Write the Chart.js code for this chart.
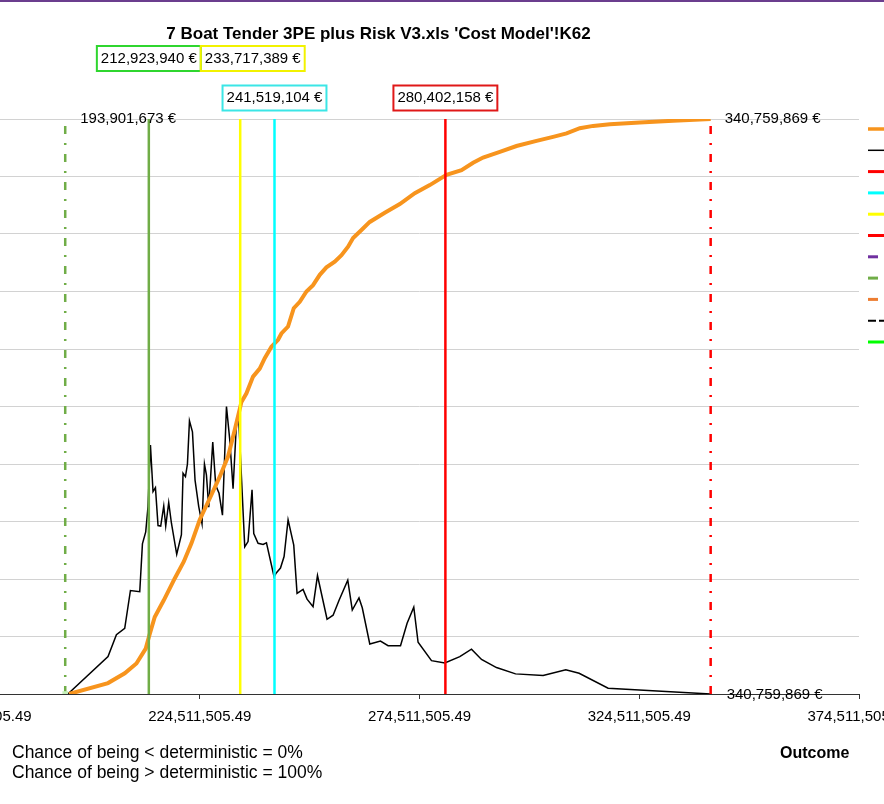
<!DOCTYPE html>
<html>
<head>
<meta charset="utf-8">
<script src="https://cdn.jsdelivr.net/npm/chart.js@4.4.0/dist/chart.umd.min.js"></script>
<style>
  html, body { margin: 0; padding: 0; }
  body { width: 884px; height: 804px; overflow: hidden; position: relative; background: #fff;
         font-family: "Liberation Sans", Arial, sans-serif; color: #000; }
  #topline { position: absolute; left: 0; top: 0; width: 884px; height: 2px; background: #6b3e8e; }
  #wrap { position: absolute; left: -100px; top: 0; width: 1100px; height: 804px; }
  #title { position: absolute; left: 0; top: 24px; width: 757px; text-align: center;
           font-weight: bold; font-size: 17px; white-space: nowrap; }
  #chances { position: absolute; left: 12px; top: 742px; font-size: 17.5px; line-height: 20px; white-space: nowrap; }
  #outcome { position: absolute; left: 780px; top: 744px; font-size: 16px; font-weight: bold; }
</style>
</head>
<body>
<div id="topline"></div>
<div id="wrap"><canvas id="risk-chart"></canvas></div>
<div id="title">7 Boat Tender 3PE plus Risk V3.xls 'Cost Model'!K62</div>
<div id="chances">Chance of being &lt; deterministic = 0%<br>Chance of being &gt; deterministic = 100%</div>
<div id="outcome">Outcome</div>
<script>
let risk_canvas = document.getElementById( "risk-chart" );

// ---------------------------- Data ------------------------------------------ //

// x axis ticks (euros)
const x_ticks = [ 174511505.49, 224511505.49, 274511505.49, 324511505.49, 374511505.49 ];

// distribution curve (black) - outcome in millions of euros, height in grid units
const density_x = [ 194.5, 203.64, 205.55, 207.44, 208.74, 210.86, 211.47, 212.22, 212.74, 213.29,
    213.88, 214.43, 215.02, 215.63, 216.32, 216.77, 217.45, 218.07, 219.27, 220.34,
    220.71, 221.26, 221.71, 222.17, 222.85, 223.44, 224.28, 225.03, 225.58, 226.03,
    226.56, 227.47, 228.15, 228.90, 229.68, 230.59, 231.34, 232.09, 232.86, 233.38,
    234.75, 235.50, 236.41, 236.80, 237.78, 238.92, 239.69, 241.42, 241.97, 242.88,
    243.70, 244.61, 245.90, 246.65, 248.02, 248.93, 250.29, 251.30, 253.48, 254.85,
    256.21, 258.19, 259.22, 260.74, 261.49, 263.20, 265.63, 267.36, 270.19, 271.69,
    273.21, 274.19, 277.24, 280.27, 283.68, 286.34, 288.62, 292.03, 296.36, 302.64,
    307.80, 310.83, 317.43, 340.76 ];
const density_y = [ 0, 0.65, 1.03, 1.14, 1.80, 1.78, 2.61, 2.82, 3.26, 4.33,
    3.52, 3.59, 2.93, 2.92, 3.27, 2.92, 3.33, 2.97, 2.43, 2.77,
    3.84, 3.78, 4.00, 4.75, 4.56, 3.72, 3.26, 2.96, 4.00, 3.81,
    3.25, 4.38, 3.63, 3.49, 3.11, 5.00, 4.42, 3.57, 4.71, 4.78,
    2.56, 2.65, 3.55, 2.79, 2.62, 2.60, 2.63, 2.04, 2.11, 2.19,
    2.39, 3.03, 2.59, 1.75, 1.82, 1.65, 1.52, 2.06, 1.30, 1.37,
    1.63, 1.98, 1.46, 1.67, 1.50, 0.87, 0.92, 0.84, 0.84, 1.23,
    1.51, 0.90, 0.58, 0.54, 0.65, 0.78, 0.60, 0.46, 0.35, 0.32,
    0.42, 0.36, 0.10, 0 ];

// cumulative curve (orange) - millions of euros, probability 0..1
const cumulative_x = [ 194.77, 203.64, 207.44, 210.10, 212.22, 212.97, 214.27, 216.32, 218.82, 220.87,
    222.62, 224.51, 226.78, 229.06, 230.95, 232.47, 234.00, 235.14, 236.64, 238.16,
    239.30, 240.83, 242.33, 243.10, 244.60, 245.90, 247.27, 248.79, 250.29, 251.82,
    253.34, 255.23, 256.76, 258.26, 259.40, 261.31, 263.20, 266.61, 270.03, 273.44,
    276.85, 280.65, 284.07, 286.71, 288.98, 292.79, 296.58, 301.14, 304.91, 307.97,
    310.99, 314.02, 317.82, 324.65, 332.22, 340.76 ];
const cumulative_y = [ 0, 0.019, 0.036, 0.053, 0.079, 0.100, 0.134, 0.163, 0.201, 0.230,
    0.262, 0.303, 0.340, 0.378, 0.413, 0.459, 0.508, 0.523, 0.552, 0.566,
    0.584, 0.604, 0.616, 0.627, 0.639, 0.671, 0.682, 0.700, 0.711, 0.729,
    0.742, 0.752, 0.763, 0.778, 0.793, 0.807, 0.821, 0.837, 0.852, 0.871,
    0.885, 0.903, 0.911, 0.924, 0.933, 0.943, 0.953, 0.962, 0.969, 0.975,
    0.984, 0.988, 0.991, 0.994, 0.997, 1.0 ];

// min / max of the simulation
const min_value = 193901673;
const max_value = 340759869;

// marker lines with boxed labels
const marker_values = [ 212923940, 233717389, 241519104, 280402158 ];
const marker_line_colors = [ '#70AD47', '#FFFF00', '#00FFFF', '#FF0000' ];
const marker_box_colors = [ '#2FD62F', '#F2F200', '#3BE6E6', '#E01818' ];
const marker_rows = [ 0, 0, 1, 1 ];

// ---------------------------- Helpers ------------------------------------------ //
const row_y = [ 58.5, 98 ];
const FONT = '"Liberation Sans", Arial, sans-serif';
const DASH_DOT = [ 8, 9, 2, 9 ];

function euro( v )
{
    return Math.round( v ).toLocaleString( 'en-US' ) + ' €';
}

function to_points( xs, ys )
{
    return xs.map( ( x, i ) => ( { x: x * 1e6, y: ys[ i ] } ) );
}

// legend swatches (text of the legend sits outside the picture)
const legend_swatches = [
    { c: '#F7941D', w: 3.5, len: 30 },
    { c: '#000000', w: 1.5, len: 30 },
    { c: '#FF0000', w: 3, len: 30 },
    { c: '#00FFFF', w: 3, len: 30 },
    { c: '#FFFF00', w: 3, len: 30 },
    { c: '#FF0000', w: 3, len: 30 },
    { c: '#7030A0', w: 3, len: 10 },
    { c: '#70AD47', w: 3, len: 10 },
    { c: '#ED7D31', w: 3, len: 10 },
    { c: '#000000', w: 2, len: 30, dash: [ 8, 3 ] },
    { c: '#00FF00', w: 3, len: 30 }
];

const label_plugin = {
    id: 'labelPlugin',
    afterDatasetsDraw( chart )
    {
        const ctx = chart.ctx;
        const xs = chart.scales.x;
        const area = chart.chartArea;
        ctx.save();
        ctx.font = '15px ' + FONT;
        ctx.textBaseline = 'middle';
        ctx.fillStyle = '#000';

        // min and max labels
        ctx.textAlign = 'left';
        ctx.fillText( euro( min_value ), xs.getPixelForValue( min_value ) + 15, area.top );
        ctx.fillText( euro( max_value ), xs.getPixelForValue( max_value ) + 14, area.top );
        ctx.fillText( euro( max_value ), xs.getPixelForValue( max_value ) + 16, area.bottom + 1 );

        // boxed marker labels
        ctx.textAlign = 'center';
        const row_right = {};
        marker_values.forEach( ( v, i ) =>
        {
            const row = marker_rows[ i ];
            const txt = euro( v );
            const w = ctx.measureText( txt ).width + 8;
            let left = xs.getPixelForValue( v ) - w / 2;
            if ( row_right[ row ] !== undefined && left < row_right[ row ] ) left = row_right[ row ];
            row_right[ row ] = left + w;
            ctx.lineWidth = 2;
            ctx.strokeStyle = marker_box_colors[ i ];
            ctx.strokeRect( left, row_y[ row ] - 12.5, w, 25 );
            ctx.fillText( txt, left + w / 2, row_y[ row ] );
        } );

        // legend swatches
        legend_swatches.forEach( ( s, i ) =>
        {
            const y = 129 + i * 21.3;
            ctx.beginPath();
            ctx.setLineDash( s.dash || [] );
            ctx.lineWidth = s.w;
            ctx.strokeStyle = s.c;
            ctx.moveTo( area.right + 9, y );
            ctx.lineTo( area.right + 9 + s.len, y );
            ctx.stroke();
        } );
        ctx.restore();
    }
};

// ---------------------------- Datasets ------------------------------------------ //
const marker_sets = marker_values.map( ( v, i ) => (
{
    label: euro( v ),
    data: [ { x: v, y: 0 }, { x: v, y: 1 } ],
    yAxisID: 'yC',
    borderColor: marker_line_colors[ i ],
    borderWidth: 2.5,
    pointRadius: 0,
    order: 0
} ) );

const risk_data = {
    datasets: [
        ...marker_sets,
        {
            label: 'Minimum',
            data: [ { x: min_value, y: 0 }, { x: min_value, y: 1 } ],
            yAxisID: 'yC',
            borderColor: '#70AD47',
            borderWidth: 2.5,
            borderDash: DASH_DOT,
            pointRadius: [ 4, 0 ],
            pointStyle: 'rect',
            pointBackgroundColor: '#C6F1BC',
            pointBorderWidth: 0,
            order: 0
        },
        {
            label: 'Maximum',
            data: [ { x: max_value, y: 0 }, { x: max_value, y: 1 } ],
            yAxisID: 'yC',
            borderColor: '#FF0000',
            borderWidth: 2.5,
            borderDash: DASH_DOT,
            pointRadius: 0,
            order: 0
        },
        {
            label: 'Cumulative',
            data: to_points( cumulative_x, cumulative_y ),
            yAxisID: 'yC',
            borderColor: '#F7941D',
            borderWidth: 4,
            pointRadius: 0,
            order: 1
        },
        {
            label: 'Distribution',
            data: to_points( density_x, density_y ),
            yAxisID: 'yD',
            borderColor: '#000000',
            borderWidth: 1.5,
            pointRadius: 0,
            order: 2
        }
    ]
};

const risk_options = {
    responsive: true,
    maintainAspectRatio: false,
    animation: false,
    layout: { padding: { left: 80, right: 141, top: 119, bottom: 60 } },
    elements: { line: { tension: 0, fill: false } },
    scales:
    {
        x:
        {
            type: 'linear',
            min: x_ticks[ 0 ],
            max: x_ticks[ x_ticks.length - 1 ],
            afterBuildTicks: s => { s.ticks = x_ticks.map( v => ( { value: v } ) ); },
            afterFit: s => { s.height = 50; },
            ticks:
            {
                autoSkip: false,
                maxRotation: 0,
                padding: 9,
                color: '#000',
                font: { family: FONT, size: 15 },
                callback: v => v.toLocaleString( 'en-US', { minimumFractionDigits: 2, maximumFractionDigits: 2 } )
            },
            grid: { drawOnChartArea: false, tickLength: 5, color: '#333' },
            border: { color: '#333', width: 1 }
        },
        yD:
        {
            position: 'left',
            min: 0,
            max: 10,
            ticks: { display: false, stepSize: 1 },
            grid: { color: '#D2D2D2', drawTicks: false },
            border: { display: false },
            afterFit: s => { s.width = 0; }
        },
        yC:
        {
            position: 'right',
            min: 0,
            max: 1,
            ticks: { display: false, stepSize: 0.1 },
            grid: { drawOnChartArea: false, drawTicks: false },
            border: { display: false },
            afterFit: s => { s.width = 0; }
        }
    },
    plugins:
    {
        legend: { display: false },
        tooltip: { enabled: false }
    }
};

const risk_chart = new Chart( risk_canvas,
{
    type: 'line',
    data: risk_data,
    options: risk_options,
    plugins: [ label_plugin ]
} );
</script>
</body>
</html>
